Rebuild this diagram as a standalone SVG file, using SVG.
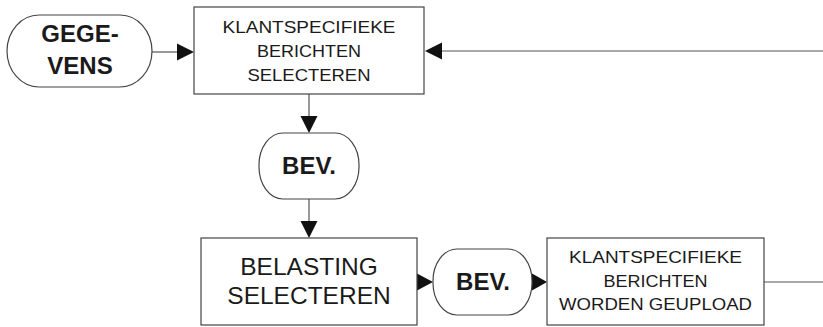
<svg xmlns="http://www.w3.org/2000/svg" width="823" height="327" viewBox="0 0 823 327">
  <style>
    .shape { fill: #ffffff; stroke: #444444; stroke-width: 1.2; }
    .wire { fill: none; stroke: #555555; stroke-width: 1.2; }
    .head { fill: #111111; stroke: none; }
    .t { font-family: "Liberation Sans", Arial, sans-serif; fill: #1a1a1a; text-anchor: middle; }
    .small { font-size: 17px; }
    .big { font-size: 24.5px; }
    .bold { font-size: 24px; font-weight: bold; }
  </style>
  <rect width="823" height="327" fill="#ffffff"/>

  <!-- connectors -->
  <g id="connectors">
    <!-- GEGEVENS -> selection -->
    <line class="wire" x1="152" y1="52" x2="180" y2="52"/>
    <polygon class="head" points="194,52 177,43.5 177,60.5"/>
    <!-- feedback from the right edge into the selection box -->
    <line class="wire" x1="823" y1="51" x2="440" y2="51"/>
    <polygon class="head" points="425,51 442,42.5 442,59.5"/>
    <!-- selection -> BEV. -->
    <line class="wire" x1="309" y1="94" x2="309" y2="119"/>
    <polygon class="head" points="309,133 300.5,116 317.5,116"/>
    <!-- BEV. -> belasting -->
    <line class="wire" x1="309" y1="199" x2="309" y2="223"/>
    <polygon class="head" points="309,238 300.5,221 317.5,221"/>
    <!-- belasting -> BEV. -->
    <polygon class="head" points="433,282 417,273.5 417,290.5"/>
    <!-- BEV. -> upload -->
    <polygon class="head" points="547,282 532,273.5 532,290.5"/>
    <!-- upload -> right edge -->
    <line class="wire" x1="764" y1="282" x2="823" y2="282"/>
  </g>

  <g id="gegevens">
    <rect class="shape" x="7" y="15" width="145" height="72" rx="32" ry="36"/>
    <text class="t bold" x="80" y="42">GEGE-</text>
    <text class="t bold" x="80" y="74">VENS</text>
  </g>

  <g id="selecteren">
    <rect class="shape" x="194" y="7" width="230" height="87"/>
    <text class="t small" x="309" y="33" textLength="173" lengthAdjust="spacingAndGlyphs">KLANTSPECIFIEKE</text>
    <text class="t small" x="309" y="57" textLength="104" lengthAdjust="spacingAndGlyphs">BERICHTEN</text>
    <text class="t small" x="309" y="81" textLength="123" lengthAdjust="spacingAndGlyphs">SELECTEREN</text>
  </g>

  <g id="bev1">
    <rect class="shape" x="259" y="133" width="100" height="66" rx="24" ry="32"/>
    <text class="t bold" x="309" y="174">BEV.</text>
  </g>

  <g id="belasting">
    <rect class="shape" x="201" y="238" width="216" height="87"/>
    <text class="t big" x="309" y="275">BELASTING</text>
    <text class="t big" x="309" y="304">SELECTEREN</text>
  </g>

  <g id="bev2">
    <rect class="shape" x="433" y="249" width="99" height="66" rx="24" ry="32"/>
    <text class="t bold" x="483" y="290">BEV.</text>
  </g>

  <g id="upload">
    <rect class="shape" x="547" y="238" width="217" height="87"/>
    <text class="t small" x="655.5" y="263" textLength="173" lengthAdjust="spacingAndGlyphs">KLANTSPECIFIEKE</text>
    <text class="t small" x="655.5" y="287" textLength="104" lengthAdjust="spacingAndGlyphs">BERICHTEN</text>
    <text class="t small" x="655.5" y="310" textLength="193" lengthAdjust="spacingAndGlyphs">WORDEN GEUPLOAD</text>
  </g>
</svg>
